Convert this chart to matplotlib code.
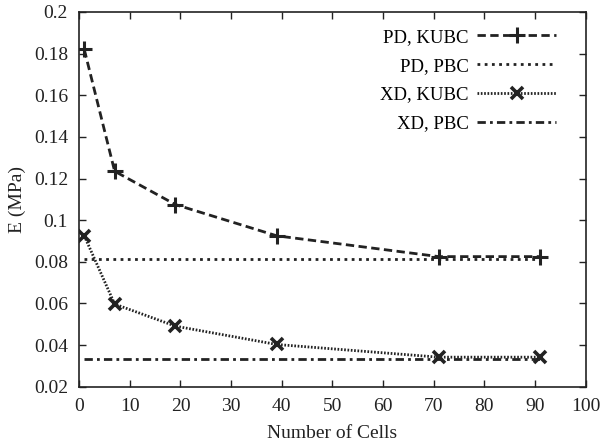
import matplotlib
matplotlib.use("Agg")
import matplotlib.pyplot as plt

plt.rcParams["font.family"] = ["Liberation Serif", "DejaVu Serif"]

# data
cells = [1, 7, 19, 39, 71, 91]
pd_kubc = [0.182, 0.1235, 0.1075, 0.0925, 0.0825, 0.0825]
pd_pbc = [0.0815] * len(cells)
xd_kubc = [0.0925, 0.0597, 0.0491, 0.0403, 0.0342, 0.0342]
xd_pbc = [0.0331] * len(cells)

x_ticks = list(range(0, 101, 10))
y_ticks = [0.02, 0.04, 0.06, 0.08, 0.1, 0.12, 0.14, 0.16, 0.18, 0.2]
y_labels = ["0.02", "0.04", "0.06", "0.08", "0.1", "0.12", "0.14", "0.16", "0.18", "0.2"]

fig = plt.figure(figsize=(6.0, 4.43), dpi=100)
ax = fig.add_axes([0.132, 0.127, 0.844, 0.846])

ax.plot(cells, pd_kubc, color="#222222", lw=2.0, linestyle=(0, (3, 1.6)),
        marker="+", markersize=11, mew=2.2, label="PD, KUBC")
ax.plot(cells, pd_pbc, color="#222222", lw=2.0, linestyle=(0, (1, 1.6)),
        label="PD, PBC")
ax.plot(cells, xd_kubc, color="#222222", lw=2.0, linestyle=(0, (0.6, 0.6)),
        marker="x", markersize=9, mew=2.6, label="XD, KUBC")
ax.plot(cells, xd_pbc, color="#222222", lw=2.0, linestyle=(0, (3, 1.5, 1, 1.5)),
        label="XD, PBC")

ax.set_xlim(0, 100)
ax.set_ylim(0.02, 0.2)
ax.set_xticks(x_ticks)
ax.set_yticks(y_ticks)
ax.set_yticklabels(y_labels)
ax.tick_params(direction="in", top=True, right=True, length=5, width=1,
               labelsize=14, pad=8, colors="#222222")
for s in ax.spines.values():
    s.set_linewidth(1.2)
    s.set_color("#222222")

ax.set_xlabel("Number of Cells", fontsize=14, color="#222222", labelpad=7)
ax.set_ylabel("E (MPa)", fontsize=14, color="#222222", labelpad=6)

ax.legend(loc="upper right", bbox_to_anchor=(0.975, 1.0), frameon=False,
          markerfirst=False, fontsize=13.5, handlelength=4.2, handletextpad=0.45,
          labelspacing=0.62)

fig.savefig("out.png", dpi=100)
